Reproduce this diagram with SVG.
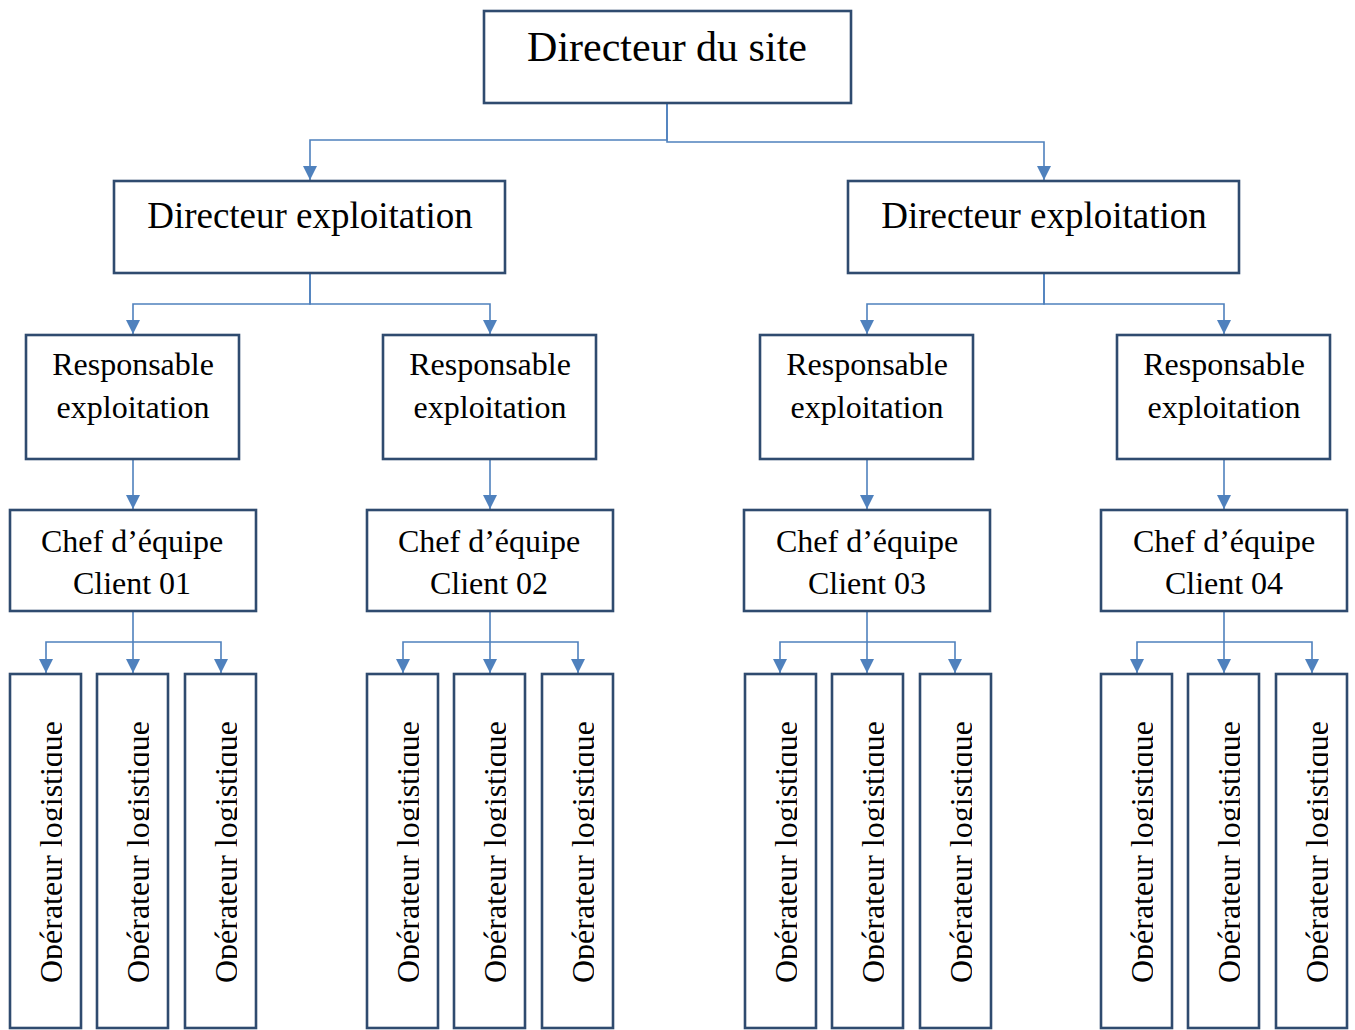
<svg xmlns="http://www.w3.org/2000/svg" width="1355" height="1030" viewBox="0 0 1355 1030">
<style>
.box{fill:#fff;stroke:#2F4B6F;stroke-width:2.6}
.t{font-family:"Liberation Serif","Times New Roman",serif;fill:#000;text-anchor:middle}
.c{fill:none;stroke:#4F81BD;stroke-width:1.6}
</style>
<defs>
<marker id="ar" markerUnits="userSpaceOnUse" markerWidth="14" markerHeight="14" viewBox="0 0 14 14" refX="14" refY="7" orient="auto"><path d="M0,0 L14,7 L0,14 z" fill="#4F81BD"/></marker>
<clipPath id="cl" clipPathUnits="userSpaceOnUse"><rect x="-250" y="-40" width="500" height="40"/></clipPath>
</defs>
<rect width="1355" height="1030" fill="#fff"/>
<g id="connectors">
<path class="c" d="M667,103 V140 H310 V180" marker-end="url(#ar)"/>
<path class="c" d="M667,103 V142 H1044 V180" marker-end="url(#ar)"/>
<path class="c" d="M310,273 V304 H133 V334" marker-end="url(#ar)"/>
<path class="c" d="M310,273 V304 H490 V334" marker-end="url(#ar)"/>
<path class="c" d="M1044,273 V304 H867 V334" marker-end="url(#ar)"/>
<path class="c" d="M1044,273 V304 H1224 V334" marker-end="url(#ar)"/>
<path class="c" d="M133,459 V509" marker-end="url(#ar)"/>
<path class="c" d="M490,459 V509" marker-end="url(#ar)"/>
<path class="c" d="M867,459 V509" marker-end="url(#ar)"/>
<path class="c" d="M1224,459 V509" marker-end="url(#ar)"/>
<path class="c" d="M133,611 V673" marker-end="url(#ar)"/>
<path class="c" d="M133,642 H46 V673" marker-end="url(#ar)"/>
<path class="c" d="M133,642 H221 V673" marker-end="url(#ar)"/>
<path class="c" d="M490,611 V673" marker-end="url(#ar)"/>
<path class="c" d="M490,642 H403 V673" marker-end="url(#ar)"/>
<path class="c" d="M490,642 H578 V673" marker-end="url(#ar)"/>
<path class="c" d="M867,611 V673" marker-end="url(#ar)"/>
<path class="c" d="M867,642 H780 V673" marker-end="url(#ar)"/>
<path class="c" d="M867,642 H955 V673" marker-end="url(#ar)"/>
<path class="c" d="M1224,611 V673" marker-end="url(#ar)"/>
<path class="c" d="M1224,642 H1137 V673" marker-end="url(#ar)"/>
<path class="c" d="M1224,642 H1312 V673" marker-end="url(#ar)"/>
</g>
<g id="site"><rect class="box" x="484" y="11" width="367" height="92"/><text class="t" x="667" y="61" font-size="42">Directeur du site</text></g>
<g id="dexp1"><rect class="box" x="114" y="181" width="391" height="92"/><text class="t" x="310" y="228" font-size="37">Directeur exploitation</text></g>
<g id="dexp2"><rect class="box" x="848" y="181" width="391" height="92"/><text class="t" x="1044" y="228" font-size="37">Directeur exploitation</text></g>
<g id="resp1"><rect class="box" x="26" y="335" width="213" height="124"/><text class="t" x="133" y="375" font-size="32">Responsable</text><text class="t" x="133" y="418" font-size="32">exploitation</text></g>
<g id="resp2"><rect class="box" x="383" y="335" width="213" height="124"/><text class="t" x="490" y="375" font-size="32">Responsable</text><text class="t" x="490" y="418" font-size="32">exploitation</text></g>
<g id="resp3"><rect class="box" x="760" y="335" width="213" height="124"/><text class="t" x="867" y="375" font-size="32">Responsable</text><text class="t" x="867" y="418" font-size="32">exploitation</text></g>
<g id="resp4"><rect class="box" x="1117" y="335" width="213" height="124"/><text class="t" x="1224" y="375" font-size="32">Responsable</text><text class="t" x="1224" y="418" font-size="32">exploitation</text></g>
<g id="chef1"><rect class="box" x="10" y="510" width="246" height="101"/><text class="t" x="132" y="552" font-size="32">Chef d’équipe</text><text class="t" x="132" y="594" font-size="32">Client 01</text></g>
<g id="chef2"><rect class="box" x="367" y="510" width="246" height="101"/><text class="t" x="489" y="552" font-size="32">Chef d’équipe</text><text class="t" x="489" y="594" font-size="32">Client 02</text></g>
<g id="chef3"><rect class="box" x="744" y="510" width="246" height="101"/><text class="t" x="867" y="552" font-size="32">Chef d’équipe</text><text class="t" x="867" y="594" font-size="32">Client 03</text></g>
<g id="chef4"><rect class="box" x="1101" y="510" width="246" height="101"/><text class="t" x="1224" y="552" font-size="32">Chef d’équipe</text><text class="t" x="1224" y="594" font-size="32">Client 04</text></g>
<g id="op1a"><rect class="box" x="10" y="674" width="71" height="354"/><text class="t" font-size="32" transform="translate(62,852) rotate(-90)" clip-path="url(#cl)">Opérateur logistique</text></g>
<g id="op1b"><rect class="box" x="97" y="674" width="71" height="354"/><text class="t" font-size="32" transform="translate(149,852) rotate(-90)" clip-path="url(#cl)">Opérateur logistique</text></g>
<g id="op1c"><rect class="box" x="185" y="674" width="71" height="354"/><text class="t" font-size="32" transform="translate(237,852) rotate(-90)" clip-path="url(#cl)">Opérateur logistique</text></g>
<g id="op2a"><rect class="box" x="367" y="674" width="71" height="354"/><text class="t" font-size="32" transform="translate(419,852) rotate(-90)" clip-path="url(#cl)">Opérateur logistique</text></g>
<g id="op2b"><rect class="box" x="454" y="674" width="71" height="354"/><text class="t" font-size="32" transform="translate(506,852) rotate(-90)" clip-path="url(#cl)">Opérateur logistique</text></g>
<g id="op2c"><rect class="box" x="542" y="674" width="71" height="354"/><text class="t" font-size="32" transform="translate(594,852) rotate(-90)" clip-path="url(#cl)">Opérateur logistique</text></g>
<g id="op3a"><rect class="box" x="745" y="674" width="71" height="354"/><text class="t" font-size="32" transform="translate(797,852) rotate(-90)" clip-path="url(#cl)">Opérateur logistique</text></g>
<g id="op3b"><rect class="box" x="832" y="674" width="71" height="354"/><text class="t" font-size="32" transform="translate(884,852) rotate(-90)" clip-path="url(#cl)">Opérateur logistique</text></g>
<g id="op3c"><rect class="box" x="920" y="674" width="71" height="354"/><text class="t" font-size="32" transform="translate(972,852) rotate(-90)" clip-path="url(#cl)">Opérateur logistique</text></g>
<g id="op4a"><rect class="box" x="1101" y="674" width="71" height="354"/><text class="t" font-size="32" transform="translate(1153,852) rotate(-90)" clip-path="url(#cl)">Opérateur logistique</text></g>
<g id="op4b"><rect class="box" x="1188" y="674" width="71" height="354"/><text class="t" font-size="32" transform="translate(1240,852) rotate(-90)" clip-path="url(#cl)">Opérateur logistique</text></g>
<g id="op4c"><rect class="box" x="1276" y="674" width="71" height="354"/><text class="t" font-size="32" transform="translate(1328,852) rotate(-90)" clip-path="url(#cl)">Opérateur logistique</text></g>
</svg>
